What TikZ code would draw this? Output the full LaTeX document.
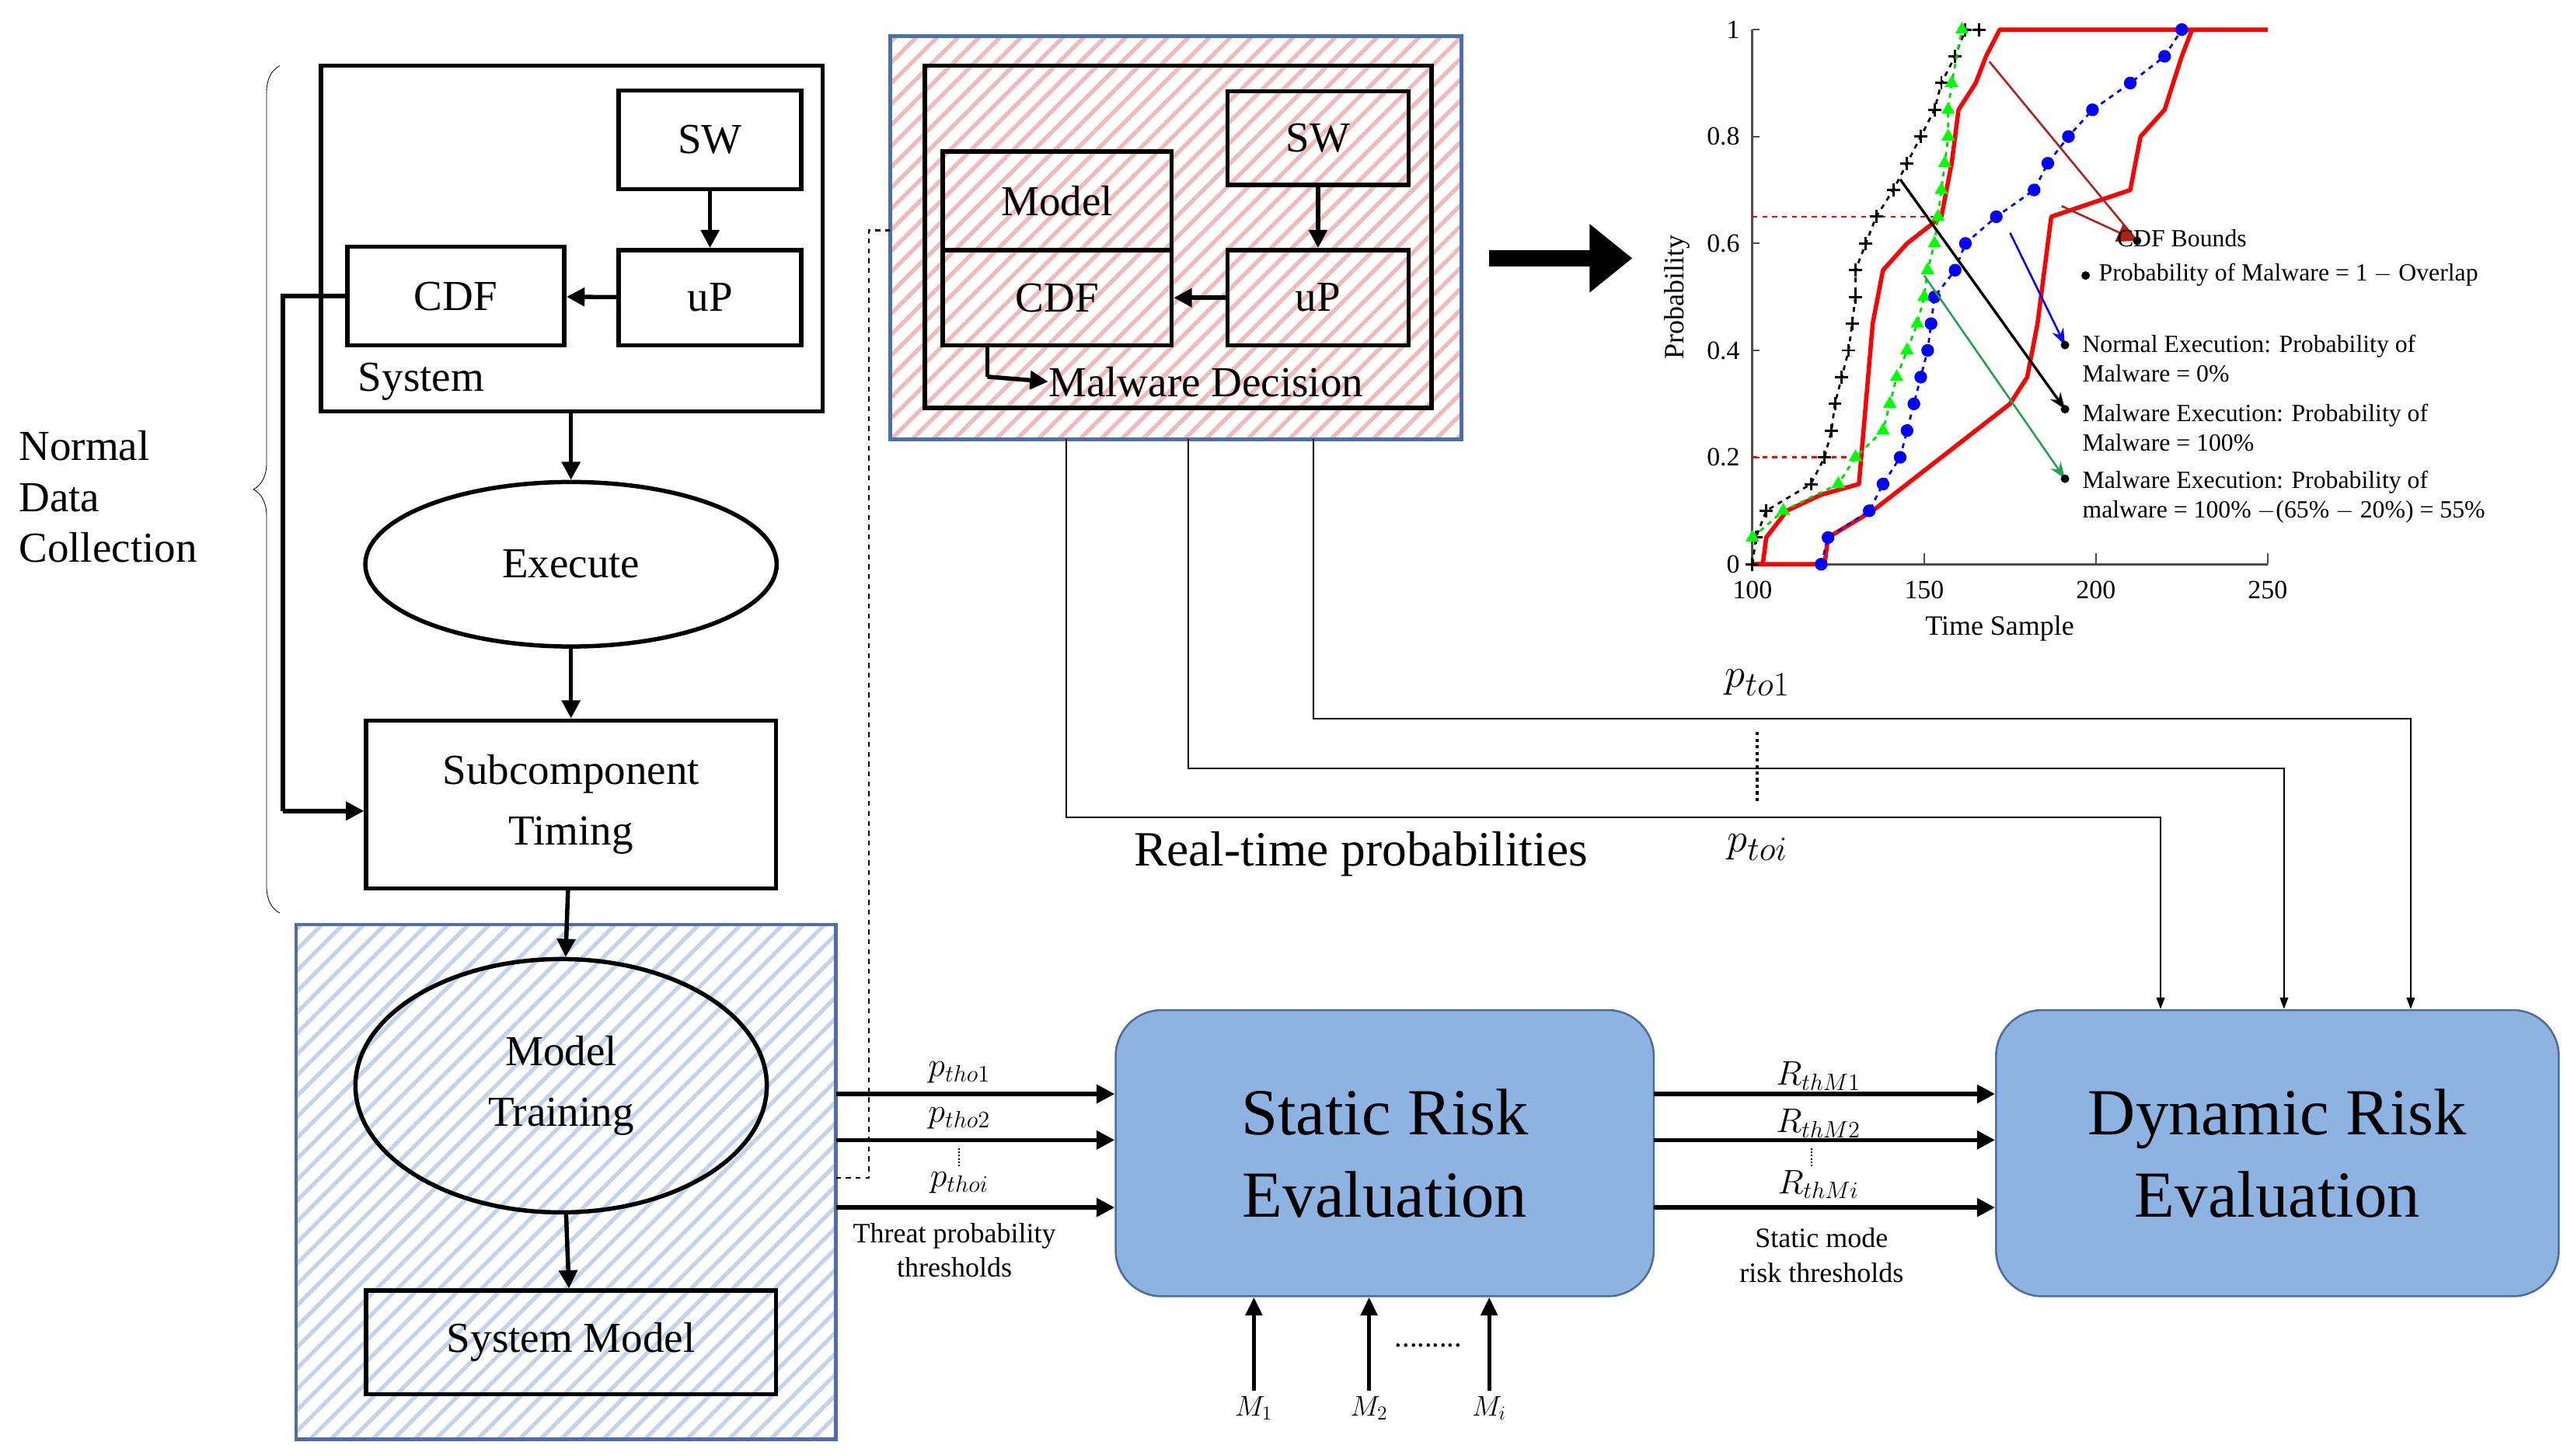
\documentclass[tikz,border=0pt]{standalone}
\usepackage{fontspec}
\setmainfont{Liberation Serif}
\usetikzlibrary{patterns.meta,decorations.pathreplacing,plotmarks,arrows.meta,shapes.geometric}
\newcommand\fsz[2]{\fontsize{#1}{#2}\selectfont}
\definecolor{boxblue}{HTML}{8DB3E2}
\definecolor{boxedge}{HTML}{4F6E96}
\definecolor{hatchblue}{HTML}{C5D3EA}
\definecolor{hatchpink}{HTML}{F2B8BC}
\definecolor{frameblue}{HTML}{4C6FA8}
\definecolor{darkred}{HTML}{B0201A}
\definecolor{mygreen}{HTML}{22A050}
\begin{document}
\begin{tikzpicture}[x=1pt,y=-1pt,
  bx/.style={draw,line width=2.6pt,inner sep=0pt},
  arr/.style={line width=2.6pt,-{Triangle[length=11pt,width=11pt]}},
  thin/.style={line width=1pt,-{Triangle[length=7pt,width=5pt]}},
  lab/.style={font=\fsz{26}{31}},
  smt/.style={font=\fsz{15}{18},anchor=west},
  risk/.style={draw=boxedge,line width=1.2pt,fill=boxblue,rounded corners=28pt}]
\useasboundingbox (0,0) rectangle (1560,885);
% ---------- left system ----------
\draw[decorate,decoration={brace,amplitude=16pt}] (170,555) -- (170,40);
\node[lab,align=left,anchor=west] (ndc) at (8,302) {Normal\\Data\\Collection};
\draw[bx] (195,40) rectangle (500,250);
\coordinate (sysb) at (347,250);
\node[lab] (syslab) at (256,232) {System};
\node[bx,lab,minimum width=111pt,minimum height=60pt] (sw) at (431.5,85) {SW};
\node[bx,lab,minimum width=111pt,minimum height=58pt] (up) at (431.5,181) {uP};
\node[bx,lab,minimum width=132pt,minimum height=60pt] (cdf) at (277,180) {CDF};
\draw[arr] (sw) -- (up);
\draw[arr] (up) -- (cdf);
\node[draw,ellipse,line width=2.6pt,minimum width=250pt,minimum height=100pt,lab] (exe) at (347,343) {Execute};
\draw[arr] (sysb) -- (exe);
\node[bx,lab,minimum width=249pt,minimum height=102pt,align=center] (sub) at (347,489) {Subcomponent\\[6pt]Timing};
\draw[arr] (exe) -- (sub);
\coordinate (c1) at (172,180);
\coordinate (c2) at (172,493);
\draw[line width=2.6pt] (cdf.west) -- (c1) -- (c2);
\draw[arr] (c2) -- (sub.west |- c2);
% blue hatched
\fill[white] (180,562) rectangle (508,875);
\fill[pattern={Lines[angle=45,distance=9pt,line width=2.5pt]},pattern color=hatchblue] (180,562) rectangle (508,875);
\draw[frameblue,line width=2.2pt] (180,562) rectangle (508,875);
\node[draw,ellipse,line width=2.6pt,minimum width=250pt,minimum height=154pt,lab,align=center] (mt) at (341,660) {Model\\[6pt]Training};
\draw[arr] (sub) -- (mt);
\node[bx,lab,minimum width=249pt,minimum height=63pt] (smod) at (347,816) {System Model};
\draw[arr] (mt) -- (smod);
% ---------- pink hatched ----------
\fill[white] (541,22) rectangle (888,267);
\fill[pattern={Lines[angle=45,distance=9pt,line width=2.5pt]},pattern color=hatchpink] (541,22) rectangle (888,267);
\draw[frameblue,line width=2.2pt] (541,22) rectangle (888,267);
\draw[bx] (562,40) rectangle (870,248);
\node[bx,lab,minimum width=139pt,minimum height=60pt] (model) at (642.5,122) {Model};
\node[bx,lab,minimum width=139pt,minimum height=58pt] (cdf2) at (642.5,181) {CDF};
\node[bx,lab,minimum width=110pt,minimum height=57pt] (sw2) at (801,84) {SW};
\node[bx,lab,minimum width=110pt,minimum height=58pt] (up2) at (801,181) {uP};
\draw[arr] (sw2) -- (up2);
\draw[arr] (up2) -- (cdf2);
\node[lab,anchor=west,inner sep=0pt] (md) at (637,232) {Malware Decision};
\coordinate (m1) at (600,229);
\draw[line width=2.6pt] (cdf2.south -| m1) -- (m1);
\draw[arr] (m1) -- (md.west);
% dashed
\coordinate (d1) at (528,140);
\coordinate (d2) at (528,716);
\draw[dashed,line width=1.2pt] (541,140) -- (d1) -- (d2) -- (508,716);
% big arrow
\coordinate (ba1) at (905,157);
\coordinate (ba2) at (992,157);
\draw[line width=10pt,-{Triangle[length=26pt,width=40pt]}] (ba1) -- (ba2);
% ---------- plot ----------
\begin{scope}[shift={(856.3,343)},x=2.087pt,y=325pt]
 \draw[line width=1.4pt,black!70] (100,1) -- (100,0) -- (250,0);
 \foreach \t in {100,150,200,250}{\draw[black!70,line width=1pt] (\t,0) -- (\t,0.02);
   \node[font=\fsz{16}{18},anchor=north] at (\t,-0.02) {\t};}
 \foreach \p/\l in {0/0,0.2/0.2,0.4/0.4,0.6/0.6,0.8/0.8,1/1}{\draw[black!70,line width=1pt] (100,\p) -- (102,\p);
   \node[font=\fsz{16}{18},anchor=east] at (98,\p) {\l};}
 \node[font=\fsz{17}{18},rotate=90] at (78,0.5) {Probability};
 \node[font=\fsz{17}{18}] at (172,-0.12) {Time Sample};
 \draw[red,dashed,line width=1.3pt] (100,0.65) -- (155,0.65);
 \draw[red,dashed,line width=1.3pt] (100,0.2) -- (132,0.2);
 \draw[red,line width=2.6pt,line join=round] plot coordinates {(100,0) (103,0) (104,0.05) (110,0.1) (120,0.13) (131,0.15) (133,0.3) (135,0.45) (138,0.55) (145,0.6) (155,0.65) (158,0.75) (160,0.85) (165,0.9) (168,0.95) (172,1) (250,1)};
 \draw[red,line width=2.6pt,line join=round] plot coordinates {(100,0) (121,0) (122,0.05) (135,0.1) (145,0.15) (155,0.2) (165,0.25) (175,0.3) (180,0.35) (183,0.45) (185,0.55) (187,0.65) (210,0.7) (213,0.8) (220,0.85) (225,0.95) (228,1)};
 \draw[black,dashed,line width=1.3pt] plot[mark=+,mark size=4pt,mark options={solid,line width=1.4pt}] coordinates {(100,0) (101,0.05) (104,0.1) (117,0.15) (121,0.2) (123,0.25) (124,0.3) (126,0.35) (128,0.4) (129,0.45) (130,0.5) (130,0.55) (133,0.6) (136,0.65) (141,0.7) (145,0.75) (149,0.8) (153,0.85) (155,0.9) (159,0.95) (162,1) (166,1)};
 \draw[green!85!black,dashed,line width=1.3pt] plot[mark=triangle*,mark size=3.5pt,mark options={solid,fill=green,draw=green}] coordinates {(100,0.05) (109,0.1) (125,0.15) (130,0.2) (138,0.25) (140,0.3) (142,0.35) (145,0.4) (148,0.45) (150,0.5) (151,0.55) (153,0.6) (154,0.65) (155,0.7) (156,0.75) (157,0.8) (157,0.85) (158,0.9) (161,1)};
 \draw[blue,dashed,line width=1.3pt] plot[mark=*,mark size=3.2pt,mark options={solid}] coordinates {(120,0) (122,0.05) (134,0.1) (138,0.15) (143,0.2) (145,0.25) (147,0.3) (149,0.35) (151,0.4) (152,0.45) (153,0.5) (159,0.55) (162,0.6) (171,0.65) (182,0.7) (186,0.75) (192,0.8) (199,0.85) (210,0.9) (220,0.95) (225,1)};
 % annotations
 \coordinate (pa) at (212,0.605);
 \coordinate (pb) at (197,0.54);
 \coordinate (pc) at (191,0.41);
 \coordinate (pd) at (191,0.29);
 \coordinate (pe) at (191,0.16);
 \draw[darkred,line width=1.2pt] (169,0.94) -- (pa);
 \draw[darkred,line width=1.2pt,-{Triangle[length=12pt,width=12pt]}] (190,0.67) -- (pa);
 \draw[blue,line width=1.2pt,-{Stealth[length=10pt]}] (175,0.62) -- (pc);
 \draw[black,line width=1.6pt,-{Stealth[length=10pt]}] (143,0.72) -- (pd);
 \draw[mygreen,line width=1.2pt,-{Stealth[length=10pt]}] (150,0.54) -- (pe);
 \foreach \c in {pa,pb,pc,pd,pe}{\fill (\c) circle (2.6pt);}
\end{scope}
\node[smt] at (1283,145) {CDF Bounds};
\node[smt] at (1272,167) {Probability of Malware = 1 $-$ Overlap};
\node[smt,align=left] at (1262,218) {Normal Execution: Probability of\\Malware = 0\%};
\node[smt,align=left] at (1262,260) {Malware Execution: Probability of\\Malware = 100\%};
\node[smt,align=left] at (1262,302) {Malware Execution: Probability of\\malware = 100\% $-$(65\% $-$ 20\%) = 55\%};
% ---------- risk boxes ----------
\node[risk,minimum width=327pt,minimum height=174pt,align=center,font=\fsz{40}{50}] (sre) at (841.5,701) {Static Risk\\Evaluation};
\node[risk,minimum width=342pt,minimum height=174pt,align=center,font=\fsz{40}{50}] (dre) at (1384,701) {Dynamic Risk\\Evaluation};
\foreach \y/\s in {665/1,693/2,734/i}{
  \coordinate (pl\s) at (508,\y);
  \draw[arr] (pl\s) -- (sre.west |- pl\s);
  \coordinate (rl\s) at (1005,\y);
  \draw[arr] (rl\s) -- (dre.west |- rl\s);}
\node[font=\fsz{20}{22}] (pt1) at (583,652) {$p_{tho1}$};
\node[font=\fsz{20}{22}] (pt2) at (583,680) {$p_{tho2}$};
\node[font=\fsz{20}{22}] (pti) at (583,719) {$p_{thoi}$};
\draw[densely dotted,line width=1pt] (583,698) -- (583,710);
\node[font=\fsz{17}{21},align=center] (tpt) at (580,760) {Threat probability\\thresholds};
\node[font=\fsz{20}{22}] (r1) at (1105,654) {$R_{thM1}$};
\node[font=\fsz{20}{22}] (r2) at (1105,683) {$R_{thM2}$};
\node[font=\fsz{20}{22}] (ri) at (1105,720) {$R_{thMi}$};
\draw[densely dotted,line width=1pt] (1101,698) -- (1101,710);
\node[font=\fsz{17}{21},align=center] (smr) at (1107,763) {Static mode\\risk thresholds};
\foreach \x/\s in {762/1,832/2,905/i}{
  \node[font=\fsz{18}{20}] (M\s) at (\x,856) {$M_{\s}$};
  \draw[line width=2.2pt,-{Triangle[length=11pt,width=10pt]}] (M\s.north) -- (M\s.north |- sre.south);}
\node[font=\fsz{18}{20}] (mdots) at (868,818) {.........};
% ---------- real-time lines ----------
\coordinate (a1) at (648,497); \coordinate (a2) at (1313,497);
\coordinate (b1) at (722,467); \coordinate (b2) at (1388,467);
\coordinate (e1) at (798,437); \coordinate (e2) at (1465,437);
\draw[thin] (648,267) -- (a1) -- (a2) -- (a2 |- dre.north);
\draw[thin] (722,267) -- (b1) -- (b2) -- (b2 |- dre.north);
\draw[thin] (798,267) -- (e1) -- (e2) -- (e2 |- dre.north);
\node[font=\fsz{28}{30}] (pto1) at (1068,415) {$p_{to1}$};
\node[font=\fsz{28}{30}] (ptoi) at (1068,515) {$p_{toi}$};
\draw[dotted,line width=2pt] (1068,445) -- (1068,488);
\node[font=\fsz{30}{32}] (rtp) at (827,519) {Real-time probabilities};
\end{tikzpicture}
\end{document}
